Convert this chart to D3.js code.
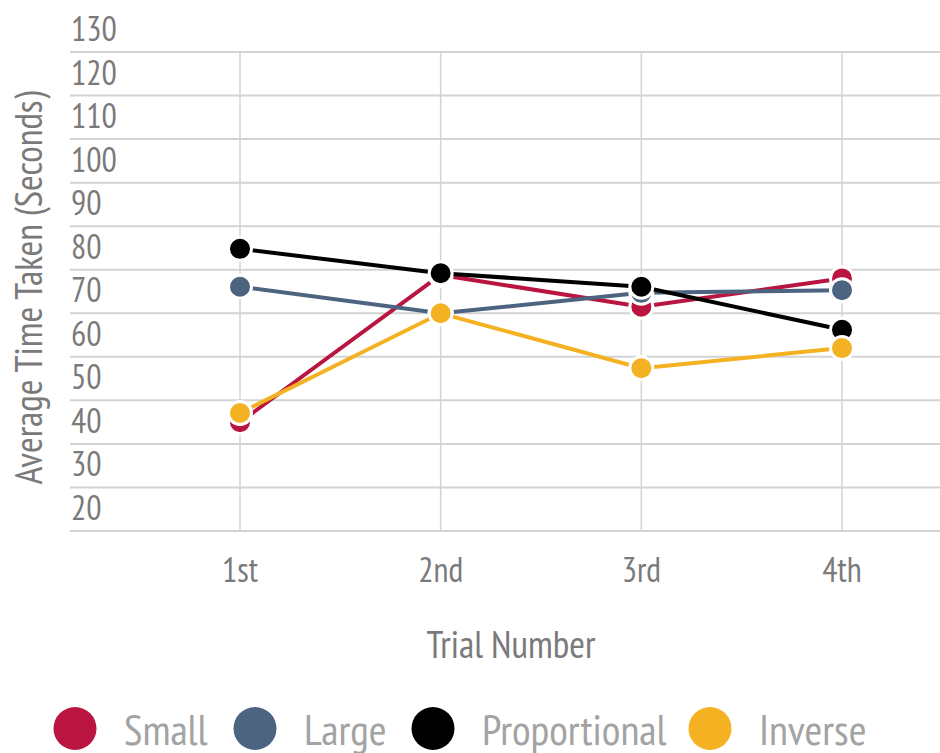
<!DOCTYPE html>
<html>
<head>
<meta charset="utf-8">
<script src="https://cdn.jsdelivr.net/npm/d3@7"></script>
<style>
  body { margin: 0; background: #fff; }
  svg { display: block; font-family: "PT Sans Narrow", "Liberation Sans Narrow", "DejaVu Sans Condensed", sans-serif; }
</style>
</head>
<body>
<div id="chart"></div>
<script>
const trials = ["1st", "2nd", "3rd", "4th"];
const yTicks = [20, 30, 40, 50, 60, 70, 80, 90, 100, 110, 120, 130];

const seriesNames = ["Small", "Large", "Proportional", "Inverse"];
const seriesColors = ["#ba1540", "#4d6480", "#000000", "#f4b122"];

const smallValues = [45, 78.8, 71.5, 78];
const largeValues = [76.1, 70, 74.7, 75.3];
const proportionalValues = [84.8, 79.2, 76.1, 66.2];
const inverseValues = [47.1, 70, 57.4, 62];

const series = [smallValues, largeValues, proportionalValues, inverseValues].map((values, i) => ({
  name: seriesNames[i],
  color: seriesColors[i],
  values: values
}));

const width = 940, height = 753;

const svg = d3.select("#chart")
  .append("svg")
  .attr("width", width)
  .attr("height", height);

const x = d3.scalePoint().domain(trials).range([240, 842]);
const y = d3.scaleLinear().domain([20, 130]).range([531, 52]);

const gridLeft = 70, gridRight = 940;

// horizontal grid + y labels (labels sit above their line)
const yGrid = svg.append("g").attr("class", "y-grid");
yGrid.selectAll("line")
  .data(yTicks)
  .join("line")
  .attr("x1", gridLeft)
  .attr("x2", gridRight)
  .attr("y1", d => y(d))
  .attr("y2", d => y(d))
  .attr("stroke", "#d3d3d3")
  .attr("stroke-width", 2);

yGrid.selectAll("text")
  .data(yTicks)
  .join("text")
  .attr("x", gridLeft + 1)
  .attr("y", d => y(d) - 11)
  .attr("fill", "#7a7a7a")
  .style("font-size", "34px")
  .text(d => d);

// vertical grid
svg.append("g")
  .selectAll("line")
  .data(trials)
  .join("line")
  .attr("x1", d => x(d))
  .attr("x2", d => x(d))
  .attr("y1", y(130))
  .attr("y2", y(20))
  .attr("stroke", "#d3d3d3")
  .attr("stroke-width", 1.5);

// x labels
svg.append("g")
  .selectAll("text")
  .data(trials)
  .join("text")
  .attr("x", d => x(d))
  .attr("y", 582)
  .attr("text-anchor", "middle")
  .attr("fill", "#7a7a7a")
  .style("font-size", "34px")
  .text(d => d);

svg.append("text")
  .attr("x", 511)
  .attr("y", 658)
  .attr("text-anchor", "middle")
  .attr("fill", "#7a7a7a")
  .style("font-size", "38px")
  .text("Trial Number");

svg.append("text")
  .attr("transform", "translate(42, 288) rotate(-90)")
  .attr("text-anchor", "middle")
  .attr("fill", "#7a7a7a")
  .style("font-size", "38px")
  .text("Average Time Taken (Seconds)");

// series
const line = d3.line()
  .x((d, i) => x(trials[i]))
  .y(d => y(d));

const sg = svg.append("g")
  .selectAll("g")
  .data(series)
  .join("g");

sg.append("path")
  .attr("d", d => line(d.values))
  .attr("fill", "none")
  .attr("stroke", d => d.color)
  .attr("stroke-width", 4);

sg.selectAll("circle")
  .data(d => d.values.map((v, i) => ({ v, i, color: d.color })))
  .join("circle")
  .attr("cx", d => x(trials[d.i]))
  .attr("cy", d => y(d.v))
  .attr("r", 11.5)
  .attr("fill", d => d.color)
  .attr("stroke", "#fff")
  .attr("stroke-width", 3);

// legend
const legendX = [75, 255, 433, 710];
const legend = svg.append("g")
  .selectAll("g")
  .data(series)
  .join("g")
  .attr("transform", (d, i) => `translate(${legendX[i]}, 728.5)`);

legend.append("circle")
  .attr("r", 21.5)
  .attr("fill", d => d.color);

legend.append("text")
  .attr("x", 49)
  .attr("y", 16)
  .attr("fill", "#a3a3a3")
  .style("font-size", "43px")
  .text(d => d.name);
</script>
</body>
</html>
